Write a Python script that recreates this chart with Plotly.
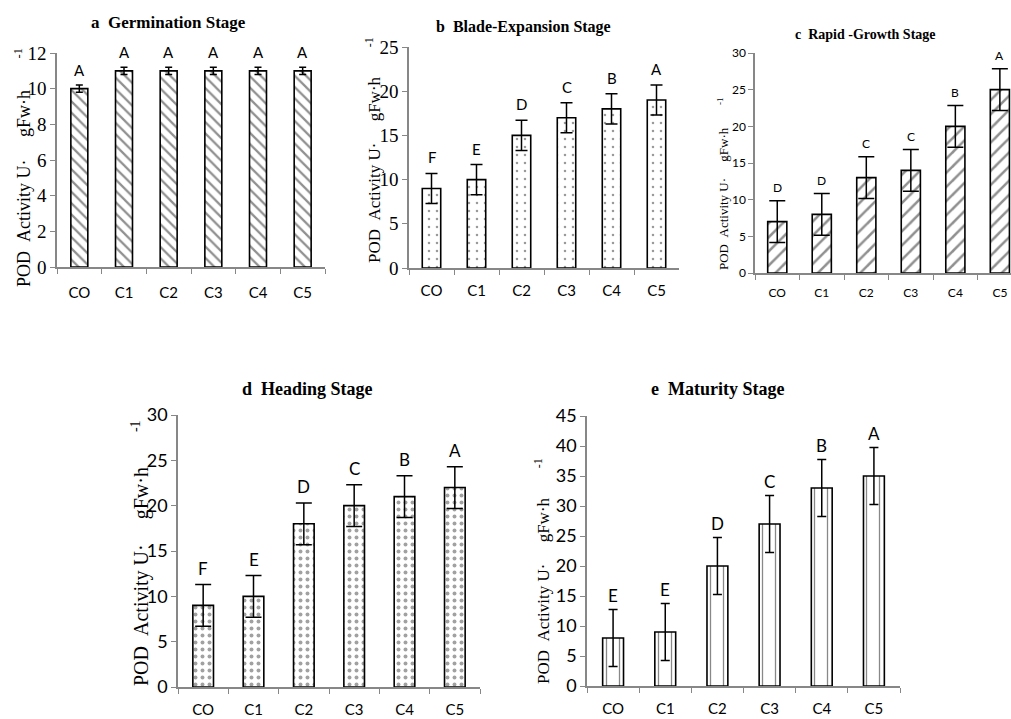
import plotly.graph_objects as go

categories = ["CO", "C1", "C2", "C3", "C4", "C5"]

a_vals = [10, 11, 11, 11, 11, 11]
a_err = [0.2, 0.2, 0.2, 0.2, 0.2, 0.2]
a_letters = ["A", "A", "A", "A", "A", "A"]

b_vals = [9, 10, 15, 17, 18, 19]
b_err = [1.7, 1.7, 1.7, 1.7, 1.7, 1.7]
b_letters = ["F", "E", "D", "C", "B", "A"]

c_vals = [7, 8, 13, 14, 20, 25]
c_err = [2.85, 2.85, 2.85, 2.85, 2.85, 2.85]
c_letters = ["D", "D", "C", "C", "B", "A"]

d_vals = [9, 10, 18, 20, 21, 22]
d_err = [2.3, 2.3, 2.3, 2.3, 2.3, 2.3]
d_letters = ["F", "E", "D", "C", "B", "A"]

e_vals = [8, 9, 20, 27, 33, 35]
e_err = [4.75, 4.75, 4.75, 4.75, 4.75, 4.75]
e_letters = ["E", "E", "D", "C", "B", "A"]

titles = ["a  Germination Stage", "b  Blade-Expansion Stage", "c  Rapid -Growth Stage",
          "d  Heading Stage", "e  Maturity Stage"]

W, H = 1011, 719
NB = "\u00a0"

def px_x(p):
    return p / W

def px_y(p):
    return 1 - p / H

panels = [
    dict(vals=a_vals, err=a_err, letters=a_letters, title=titles[0],
         xpx=(57, 325), ypx=(53, 267), yr=[0, 12], dtick=2, xr=[-0.5, 5.5],
         bw=0.38, pattern=dict(shape="\\", size=8, solidity=0.28, fgcolor="#222"),
         tickfont=dict(family="Liberation Serif", size=19), catfont=15, letfont=15,
         cap=3.5, letshift=15, tfont=17, tpos=(168, 22), standoff=11,
         ytitle=dict(x=22, yc=168, size=18, g1=5, g2=7)),
    dict(vals=b_vals, err=b_err, letters=b_letters, title=titles[1],
         xpx=(409, 679), ypx=(47, 268), yr=[0, 25], dtick=5, xr=[-0.5, 5.5],
         bw=0.41, pattern=dict(shape=".", size=8, solidity=0.08, fgcolor="#333"),
         tickfont=dict(family="Liberation Serif", size=19), catfont=15, letfont=15,
         cap=6, letshift=16, tfont=16, tpos=(523, 27), standoff=8,
         ytitle=dict(x=373, yc=150, size=17, g1=5, g2=7)),
    dict(vals=c_vals, err=c_err, letters=c_letters, title=titles[2],
         xpx=(755, 1011), ypx=(53, 273), yr=[0, 30], dtick=5, xr=[-0.5, 5.25],
         bw=0.43, pattern=dict(shape="/", size=10, solidity=0.25, fgcolor="#222"),
         tickfont=dict(family="Lato", size=12), catfont=12, letfont=12,
         cap=8, letshift=13, tfont=14, tpos=(865, 34), standoff=8,
         ytitle=dict(x=723, yc=184, size=13, g1=5, g2=7)),
    dict(vals=d_vals, err=d_err, letters=d_letters, title=titles[3],
         xpx=(178, 480), ypx=(415, 687), yr=[0, 30], dtick=5, xr=[-0.5, 5.5],
         bw=0.41, pattern=dict(shape=".", size=7, solidity=0.25, fgcolor="#444"),
         tickfont=dict(family="Lato", size=18), catfont=15, letfont=17,
         cap=8, letshift=16, tfont=18, tpos=(307, 389), standoff=8,
         ytitle=dict(x=140, yc=553, size=20, g1=5, g2=7)),
    dict(vals=e_vals, err=e_err, letters=e_letters, title=titles[4],
         xpx=(587, 900), ypx=(416, 686), yr=[0, 45], dtick=5, xr=[-0.5, 5.5],
         bw=0.40, pattern=dict(shape="|", size=13, solidity=0.1, fgcolor="#111"),
         tickfont=dict(family="Lato", size=18), catfont=15, letfont=17,
         cap=4.5, letshift=14, tfont=18, tpos=(717, 389), standoff=8,
         ytitle=dict(x=542, yc=571, size=17, g1=5, g2=7)),
]

fig = go.Figure()
layout = dict(width=W, height=H, margin=dict(l=0, r=0, t=0, b=0, autoexpand=False),
              paper_bgcolor="white", plot_bgcolor="white", showlegend=False)
annotations = []
axis_color = "#878787"

for i, p in enumerate(panels, start=1):
    sfx = "" if i == 1 else str(i)
    fig.add_trace(go.Bar(
        x=categories, y=p["vals"], width=p["bw"],
        xaxis="x" + sfx, yaxis="y" + sfx,
        marker=dict(color="white", line=dict(color="black", width=1.6),
                    pattern=p["pattern"]),
        error_y=dict(type="data", array=p["err"], visible=True, color="black",
                     thickness=1.5, width=p["cap"]),
    ))
    layout["xaxis" + sfx] = dict(
        domain=[px_x(p["xpx"][0]), px_x(p["xpx"][1])], anchor="y" + sfx,
        type="category", range=p["xr"], showline=True, linecolor=axis_color,
        linewidth=1.5, ticks="outside", tickson="boundaries", ticklen=5,
        tickcolor=axis_color, tickwidth=1.2, showgrid=False, zeroline=False,
        automargin=False, ticklabelstandoff=p["standoff"],
        tickfont=dict(family="Lato", size=p["catfont"], color="black"))
    layout["yaxis" + sfx] = dict(
        domain=[px_y(p["ypx"][1]), px_y(p["ypx"][0])], anchor="x" + sfx,
        range=p["yr"], dtick=p["dtick"], showline=True, linecolor=axis_color,
        linewidth=1.5, ticks="outside", ticklen=5, tickcolor=axis_color,
        tickwidth=1.2, showgrid=False, zeroline=False, automargin=False,
        tickfont=dict(family=p["tickfont"]["family"], size=p["tickfont"]["size"],
                      color="black"))
    for cat, v, e, L in zip(categories, p["vals"], p["err"], p["letters"]):
        annotations.append(dict(
            x=cat, y=v + e, xref="x" + sfx, yref="y" + sfx, text=L,
            showarrow=False, yanchor="middle", yshift=p["letshift"],
            font=dict(family="Lato", size=p["letfont"], color="black")))
    annotations.append(dict(
        x=px_x(p["tpos"][0]), y=px_y(p["tpos"][1]), xref="paper", yref="paper",
        text="<b>" + p["title"].replace(" ", NB) + "</b>", showarrow=False,
        xanchor="center", yanchor="middle",
        font=dict(family="Liberation Serif", size=p["tfont"], color="black")))
    yt = p["ytitle"]
    ytxt = ("POD" + NB * 2 + "Activity" + NB + "U·" + NB * yt["g1"] + "gFw·h"
            + NB * yt["g2"] + "<sup>-1</sup>")
    annotations.append(dict(
        x=px_x(yt["x"]), y=px_y(yt["yc"]), xref="paper", yref="paper",
        text=ytxt, textangle=-90, showarrow=False, xanchor="center",
        yanchor="middle",
        font=dict(family="Liberation Serif", size=yt["size"], color="black")))

layout["annotations"] = annotations
fig.update_layout(**layout)
fig.write_html("out.html", config={"displayModeBar": False},
               post_script="document.body.style.margin='0';document.body.style.padding='0';")
